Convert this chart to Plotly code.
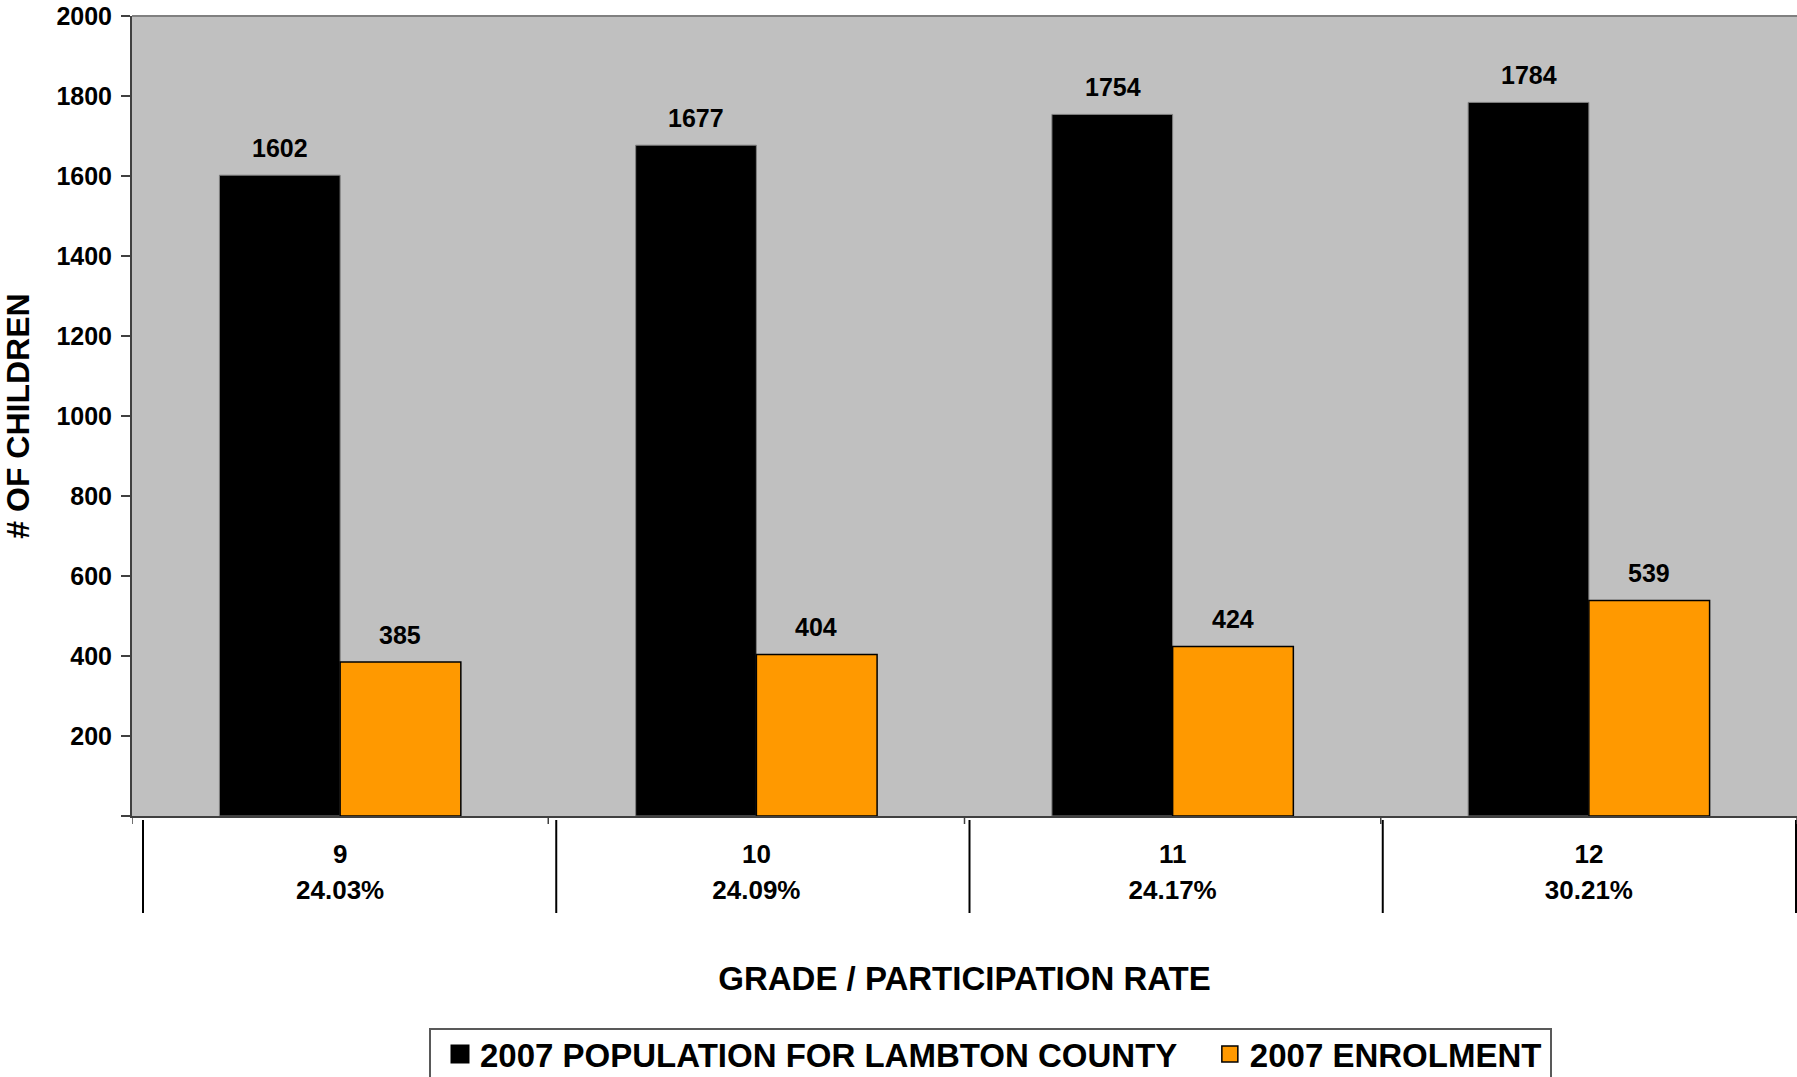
import plotly.graph_objects as go

grades = ["9", "10", "11", "12"]
rates = ["24.03%", "24.09%", "24.17%", "30.21%"]
population = [1602, 1677, 1754, 1784]
enrolment = [385, 404, 424, 539]
series_names = ["2007 POPULATION FOR LAMBTON COUNTY", "2007 ENROLMENT"]
y_ticks = [0, 200, 400, 600, 800, 1000, 1200, 1400, 1600, 1800, 2000]

FONT = "Arial, Liberation Sans, sans-serif"
BLACK = "#000000"
ORANGE = "#FF9900"
cats = list(range(len(grades)))
ticktext = [f"<span style='font-size:26px'>{g}<br>{r}</span>" for g, r in zip(grades, rates)]

# figure geometry (page body margin removed, so figure px == page px)
W, H = 1797, 1077
L, R, T, B = 132, 0, 16, 261
PW, PH = W - L - R, H - T - B


def px_x(px):
    return (px - L) / PW


def px_y(py):
    return (T + PH - py) / PH


fig = go.Figure()
fig.add_trace(go.Bar(x=cats, y=population, name=series_names[0], showlegend=False,
                     marker=dict(color=BLACK, line=dict(color="#808080", width=1))))
fig.add_trace(go.Bar(x=cats, y=enrolment, name=series_names[1], showlegend=False,
                     marker=dict(color=ORANGE, line=dict(color=BLACK, width=1.5))))
# legend entries with square swatches
fig.add_trace(go.Scatter(x=[None], y=[None], mode="markers",
                         name=series_names[0] + "\u00a0\u00a0\u00a0",
                         marker=dict(symbol="square", size=16, color=BLACK,
                                     line=dict(color=BLACK, width=3))))
fig.add_trace(go.Scatter(x=[None], y=[None], mode="markers", name=series_names[1],
                         marker=dict(symbol="square", size=16, color=ORANGE,
                                     line=dict(color=BLACK, width=1.5))))

annotations = []
for vals, shift in ((population, -60), (enrolment, 60)):
    for i, v in enumerate(vals):
        annotations.append(dict(x=i, y=v, xref="x", yref="y", text=str(v), showarrow=False,
                                xshift=shift, yshift=27, yanchor="middle",
                                font=dict(family=FONT, size=25, color=BLACK, weight="bold")))

shapes = []
shapes.append(dict(type="line", xref="paper", yref="paper", x0=0, x1=1, y0=1, y1=1,
                   line=dict(color="#808080", width=2)))
for i in range(len(grades) + 1):
    off = 11 - 3 * i
    shapes.append(dict(type="line", xref="x", yref="paper", xsizemode="pixel",
                       xanchor=i - 0.5, x0=off, x1=off, y0=px_y(820), y1=px_y(913),
                       line=dict(color=BLACK, width=2)))
    shapes.append(dict(type="line", xref="x", yref="paper", x0=i - 0.5, x1=i - 0.5,
                       y0=0, y1=px_y(824), line=dict(color="#404040", width=1.5)))
# legend frame
shapes.append(dict(type="rect", xref="paper", yref="paper",
                   x0=px_x(430), x1=px_x(1551), y0=px_y(1029), y1=px_y(1100),
                   line=dict(color="#595959", width=2), fillcolor="rgba(0,0,0,0)"))

fig.update_layout(
    width=W, height=H,
    margin=dict(l=L, r=R, t=T, b=B, autoexpand=False),
    paper_bgcolor="#FFFFFF", plot_bgcolor="#C0C0C0",
    font=dict(family=FONT, color=BLACK, weight="bold"),
    barmode="group", bargap=0.42, bargroupgap=0,
    showlegend=True,
    legend=dict(orientation="h", x=px_x(440), xanchor="left",
                y=px_y(1054), yanchor="middle",
                borderwidth=0, bgcolor="rgba(0,0,0,0)",
                font=dict(family=FONT, size=33, color=BLACK, weight="bold")),
    annotations=annotations, shapes=shapes,
)
fig.update_xaxes(type="linear", range=[-0.5, len(grades) - 0.5], tickvals=cats, ticktext=ticktext,
                 showgrid=False, zeroline=False, showline=True, linecolor="#404040", linewidth=2,
                 ticks="", ticklabelstandoff=11, automargin=False,
                 tickfont=dict(family=FONT, size=28, color=BLACK, weight="bold"),
                 title=dict(text="GRADE / PARTICIPATION RATE", standoff=63,
                            font=dict(family=FONT, size=33, color=BLACK, weight="bold")))
fig.update_yaxes(range=[0, 2000], tickvals=y_ticks,
                 ticktext=["" if t == 0 else str(t) for t in y_ticks],
                 showgrid=False, zeroline=False, showline=True, linecolor="#404040", linewidth=2,
                 ticks="outside", ticklen=9, tickcolor="#404040", tickwidth=1.5,
                 ticklabelstandoff=4, automargin=False, ticklabeloverflow="allow",
                 tickfont=dict(family=FONT, size=25, color=BLACK, weight="bold"),
                 title=dict(text="# OF CHILDREN", standoff=28,
                            font=dict(family=FONT, size=32, color=BLACK, weight="bold")))

fig.write_html("out.html", config={"displayModeBar": False},
               post_script="document.body.style.margin='0';")
